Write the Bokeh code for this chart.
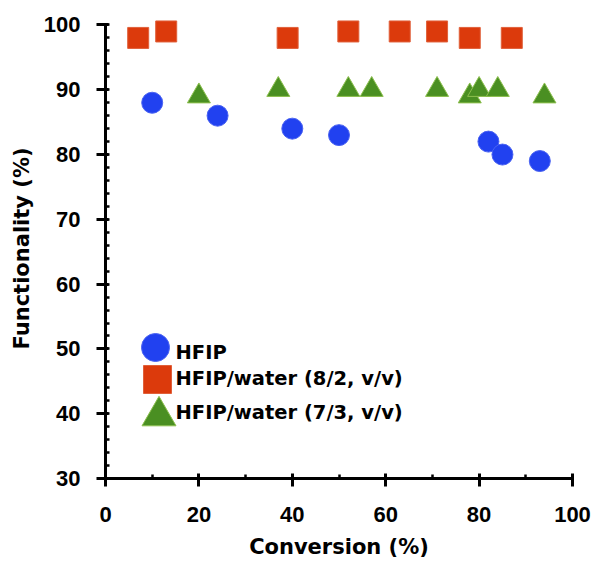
from bokeh.plotting import figure
from bokeh.models import Range1d, FixedTicker, Legend, LegendItem, Label
from bokeh.embed import file_html
from bokeh.resources import INLINE

# ---- data ----
hfip_x = [10, 24, 40, 50, 82, 85, 93]
hfip_y = [88, 86, 84, 83, 82, 80, 79]

w82_x = [7, 13, 39, 52, 63, 71, 78, 87]
w82_y = [98, 99, 98, 99, 99, 99, 98, 98]

w73_x = [20, 37, 52, 57, 71, 78, 80, 84, 94]
w73_y = [89, 90, 90, 90, 90, 89, 90, 90, 89]

series_labels = ["HFIP", "HFIP/water (8/2, v/v)", "HFIP/water (7/3, v/v)"]
x_ticks = [0, 20, 40, 60, 80, 100]
x_minor = [10, 30, 50, 70, 90]
y_ticks = [30, 40, 50, 60, 70, 80, 90, 100]
y_minor = list(range(30, 101, 2))

TICK_FONT = "Liberation Sans"
TEXT_FONT = "DejaVu Sans"
BLUE = "#2141f0"
RED = "#dc3a0c"
GREEN = "#4a8f22"

p = figure(
    width=592, height=561,
    min_border_left=105, min_border_right=20, min_border_top=18, min_border_bottom=81,
    x_range=Range1d(0, 100), y_range=Range1d(30, 101),
    output_backend="svg", toolbar_location=None,
)
p.outline_line_color = None
p.xgrid.visible = False
p.ygrid.visible = False
p.background_fill_color = "white"
p.border_fill_color = "white"

r1 = p.scatter(hfip_x, hfip_y, marker="circle", size=21, fill_color=BLUE,
               line_color="#4a63f2", line_width=1)
r2 = p.scatter(w82_x, w82_y, marker="square", size=21, fill_color=RED,
               line_color="#e0603a", line_width=1)
r3 = p.scatter(w73_x, w73_y, marker="triangle", size=23, fill_color=GREEN,
               line_color="#8cbf4e", line_width=1)

for ax, ticks, minor, bounds in ((p.xaxis[0], x_ticks, x_minor, (0, 100)),
                                 (p.yaxis[0], y_ticks, y_minor, (30, 100))):
    ax.ticker = FixedTicker(ticks=ticks, minor_ticks=minor)
    ax.bounds = bounds
    ax.axis_line_width = 3
    ax.axis_line_color = "black"
    ax.major_tick_line_width = 3
    ax.minor_tick_line_width = 2.5
    ax.major_tick_line_color = "black"
    ax.minor_tick_line_color = "black"
    ax.minor_tick_out = 0
    ax.minor_tick_in = 4
    ax.major_label_text_font = TICK_FONT
    ax.major_label_text_font_style = "bold"
    ax.major_label_text_font_size = "22px"
    ax.major_label_text_color = "black"
    ax.axis_label_text_font = TEXT_FONT
    ax.axis_label_text_font_style = "bold"
    ax.axis_label_text_font_size = "21px"
    ax.axis_label_text_color = "black"

p.xaxis.major_tick_in = 5
p.xaxis.major_tick_out = 8
p.xaxis.major_label_standoff = 20
p.xaxis.axis_label = "Conversion (%)"
p.xaxis.axis_label_standoff = 10

p.yaxis.major_tick_in = 3
p.yaxis.major_tick_out = 9
p.yaxis.major_label_standoff = 16
p.yaxis.axis_label = "Functionality (%)"
p.yaxis.axis_label_standoff = 7

# legend: one swatch per legend box, labels as text annotations
swatches = [(r1, 70, (15, 96)), (r2, 70, (17, 64)), (r3, 85, (11, 20))]
for rend, gsize, loc in swatches:
    lg = Legend(items=[LegendItem(label="", renderers=[rend])],
                location=loc, glyph_width=gsize, glyph_height=gsize,
                label_width=0, label_standoff=0, padding=0, margin=0,
                border_line_alpha=0, background_fill_alpha=0)
    p.add_layout(lg, "center")

label_pos_y = [126, 100, 66]
for txt, ly in zip(series_labels, label_pos_y):
    p.add_layout(Label(x=70, y=ly, x_units="screen", y_units="screen", text=txt,
                       text_font=TEXT_FONT, text_font_style="bold",
                       text_font_size="19.5px", text_color="black",
                       text_baseline="middle", text_align="left"))

open("out.html", "w").write(file_html(p, INLINE))
